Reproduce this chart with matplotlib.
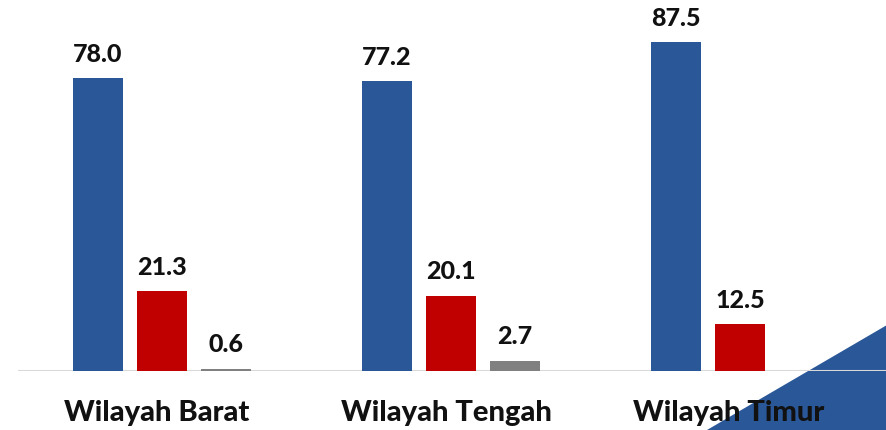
import matplotlib.pyplot as plt
from matplotlib.patches import Polygon

regions = ['Wilayah Barat', 'Wilayah Tengah', 'Wilayah Timur']
blue_vals = [78.0, 77.2, 87.5]
red_vals = [21.3, 20.1, 12.5]
gray_vals = [0.6, 2.7, None]

BLUE = '#2A5798'
RED = '#C00000'
GRAY = '#808080'

plt.rcParams['font.family'] = ['Lato', 'DejaVu Sans']

fig = plt.figure(figsize=(8.87, 4.30), dpi=100)
ax = fig.add_axes([18 / 887, 59 / 430, 869 / 887, 371 / 430])
ax.patch.set_visible(False)

width = 0.173
offset = 0.2215
series = [(blue_vals, BLUE, -offset), (red_vals, RED, 0.0), (gray_vals, GRAY, offset)]

for vals, color, dx in series:
    for i, v in enumerate(vals):
        if v is None:
            continue
        ax.bar(i + dx, v, width=width, color=color, zorder=2)
        ax.annotate(f'{v:.1f}', (i + dx, v), xytext=(0, 9), textcoords='offset points',
                    ha='center', va='bottom', fontsize=18, fontweight='black', color='#111111')

ax.set_xlim(-0.498, 2.509)
ax.set_ylim(0, 98.8)
ax.axhline(0, color='#D9D9D9', linewidth=1.5, zorder=1)
for s in ax.spines.values():
    s.set_visible(False)
ax.set_yticks([])
ax.set_xticks([-0.017, -0.014 + 1, -0.04 + 2])
ax.set_xticklabels(regions, fontsize=21, fontweight='black', color='#111111')
ax.tick_params(axis='x', length=0, pad=21)

# decorative triangle in the corner
tri = Polygon([(707 / 887, 0), (1, 0), (1, 105 / 430)], closed=True,
              transform=fig.transFigure, facecolor=BLUE, edgecolor='none', zorder=-1)
fig.patches.append(tri)

fig.savefig('out.png', dpi=100)
